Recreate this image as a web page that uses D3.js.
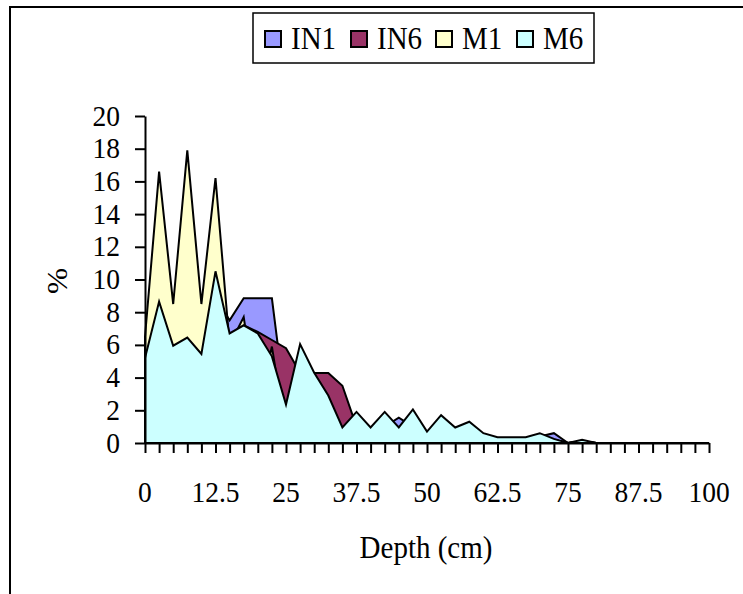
<!DOCTYPE html>
<html>
<head>
<meta charset="utf-8">
<script src="https://cdn.jsdelivr.net/npm/d3@7"></script>
<style>
  body { margin: 0; background: #fff; }
</style>
</head>
<body>
<svg id="chart" width="743" height="594" font-family="'Liberation Serif', 'Times New Roman', Times, serif"></svg>
<script>
// depth categories (cm)
const depths = d3.range(0, 41).map(i => i * 2.5);
const xLabels = ['0', '12.5', '25', '37.5', '50', '62.5', '75', '87.5', '100'];
const yTicks = [0, 2, 4, 6, 8, 10, 12, 14, 16, 18, 20];

// series values (%), one per depth
const IN1 = [4, 9, 7, 8, 7, 9, 7.5, 8.85, 8.85, 8.85, 2.0, 4.0, 3.0, 2.5, 0.8, 1.5, 0.8, 1.0, 1.55, 1.0,
  0.5, 1.0, 0.6, 0.8, 0.3, 0.2, 0.2, 0.2, 0.4, 0.6, 0, 0.1, 0, 0, 0, 0, 0, 0, 0, 0, 0];
const IN6 = [3, 7, 5, 6, 5, 8, 6.0, 7.2, 6.8, 6.3, 5.8, 4.3, 4.28, 4.28, 3.5, 1.0, 0.8, 1.5, 0.8, 1.5,
  0.5, 1.2, 0.7, 1.0, 0.4, 0.2, 0.2, 0.2, 0.3, 0.2, 0, 0.1, 0, 0, 0, 0, 0, 0, 0, 0, 0];
const M1 = [6.5, 16.6, 8.5, 17.9, 8.5, 16.2, 6.0, 7.7, 2.0, 5.9, 0.5, 4.0, 3.0, 2.0, 0.8, 1.5, 0.8, 1.5, 0.8, 1.5,
  0.5, 1.2, 0.8, 1.0, 0.4, 0.2, 0.2, 0.2, 0.4, 0.2, 0, 0.1, 0, 0, 0, 0, 0, 0, 0, 0, 0];
const M6 = [5.2, 8.65, 5.95, 6.45, 5.45, 10.5, 6.7, 7.2, 6.7, 5.3, 2.35, 6.05, 4.3, 2.9, 0.95, 1.9, 0.95, 1.9, 0.95, 2.05,
  0.7, 1.7, 0.95, 1.3, 0.6, 0.35, 0.35, 0.35, 0.6, 0.25, 0, 0.2, 0, 0, 0, 0, 0, 0, 0, 0, 0];

const seriesNames = ['IN1', 'IN6', 'M1', 'M6'];
const seriesColors = ['#9999ff', '#993366', '#ffffcc', '#ccffff'];
const seriesValues = [IN1, IN6, M1, M6];

const svg = d3.select('#chart');
const stretch = 1.08; // text in the picture is a bit tall
const tickFont = '27.5px';
const titleFont = '29px';

// outer frame (runs off the right and bottom)
svg.append('rect')
  .attr('x', 10).attr('y', 7)
  .attr('width', 800).attr('height', 700)
  .attr('fill', 'none').attr('stroke', '#000').attr('stroke-width', 2);

const x = d3.scalePoint().domain(depths).range([145, 709]);
const y = d3.scaleLinear().domain([0, 20]).range([443, 116]);

// areas, drawn in series order so M6 ends up on top
const area = d3.area()
  .x((d, i) => x(depths[i]))
  .y0(y(0))
  .y1(d => y(d));

svg.append('g')
  .selectAll('path')
  .data(seriesValues)
  .join('path')
  .attr('d', d => area(d))
  .attr('fill', (d, i) => seriesColors[i])
  .attr('stroke', '#000')
  .attr('stroke-width', 2)
  .attr('stroke-linejoin', 'miter');

// axes
const yAxis = svg.append('g')
  .attr('transform', `translate(${x(0)},0)`)
  .call(d3.axisLeft(y).tickValues(yTicks).tickSize(10).tickSizeOuter(0).tickFormat(''));
const xAxis = svg.append('g')
  .attr('transform', `translate(0,${y(0)})`)
  .call(d3.axisBottom(x).tickSize(10).tickSizeOuter(0).tickFormat(''));
[yAxis, xAxis].forEach(g => {
  g.select('.domain').attr('stroke', '#000').attr('stroke-width', 2);
  g.selectAll('.tick line').attr('stroke', '#000').attr('stroke-width', 2);
});

// tick labels
svg.append('g')
  .selectAll('text')
  .data(yTicks)
  .join('text')
  .attr('transform', d => `translate(120,${y(d) + 9.5}) scale(1,${stretch})`)
  .attr('text-anchor', 'end')
  .style('font-size', tickFont)
  .text(d => d);

svg.append('g')
  .selectAll('text')
  .data(xLabels)
  .join('text')
  .attr('transform', d => `translate(${x(+d)},502) scale(1,${stretch})`)
  .attr('text-anchor', 'middle')
  .style('font-size', tickFont)
  .text(d => d);

// axis titles
svg.append('text')
  .attr('transform', `translate(67,281) rotate(-90) scale(${stretch},1)`)
  .attr('text-anchor', 'middle')
  .style('font-size', titleFont)
  .text('%');

svg.append('text')
  .attr('transform', `translate(426,558) scale(1,${stretch})`)
  .attr('text-anchor', 'middle')
  .style('font-size', titleFont)
  .text('Depth (cm)');

// legend
const legend = svg.append('g');
legend.append('rect')
  .attr('x', 253).attr('y', 13)
  .attr('width', 341).attr('height', 50)
  .attr('fill', '#fff').attr('stroke', '#000').attr('stroke-width', 1.5);

const legendX = [265, 351, 436, 517];
const items = legend.selectAll('g.item')
  .data(seriesNames)
  .join('g')
  .attr('class', 'item')
  .attr('transform', (d, i) => `translate(${legendX[i]},0)`);
items.append('rect')
  .attr('x', 0).attr('y', 31)
  .attr('width', 16).attr('height', 16)
  .attr('fill', (d, i) => seriesColors[i])
  .attr('stroke', '#000').attr('stroke-width', 2);
items.append('text')
  .attr('transform', `translate(26,49) scale(1,${stretch})`)
  .style('font-size', titleFont)
  .text(d => d);
</script>
</body>
</html>
